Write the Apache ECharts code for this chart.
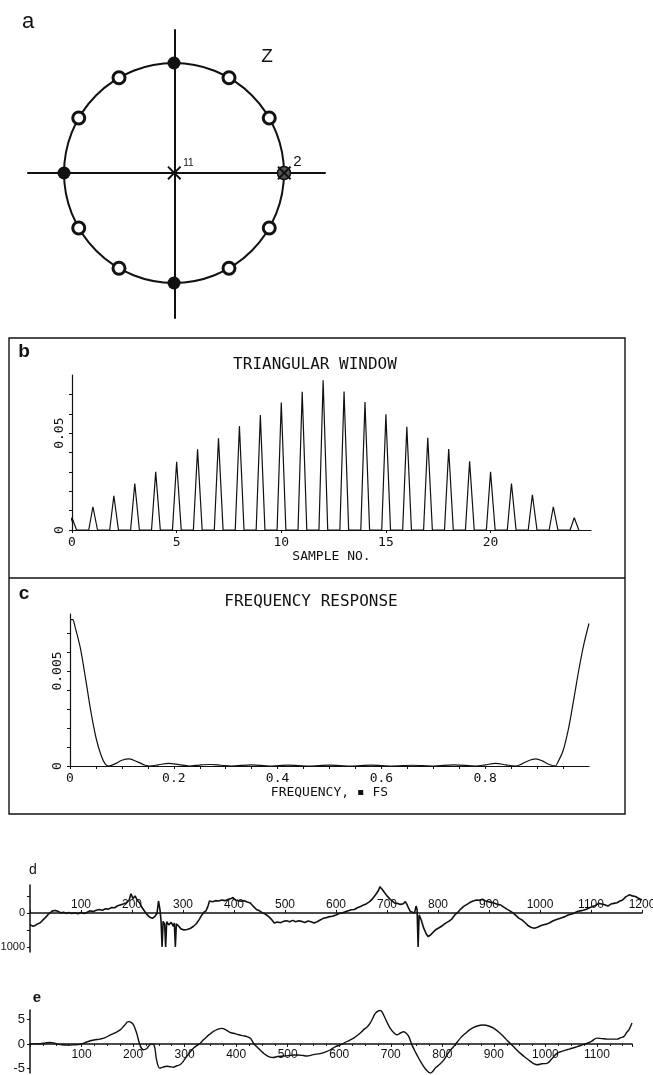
<!DOCTYPE html>
<html>
<head>
<meta charset="utf-8">
<script src="https://cdn.jsdelivr.net/npm/echarts@6/dist/echarts.min.js"></script>
<style>
  html, body { margin: 0; padding: 0; background: #fff; }
  #chart { width: 653px; height: 1075px; }
</style>
</head>
<body>
<div id="chart"></div>
<script>
// a: zeros on the unit circle (angle in degrees), poles
var zerosOpen = [30, 60, 120, 150, 210, 240, 300, 330];
var zerosFilled = [90, 180, 270];
var zeroAtOne = [0];
var poles = [[0, 0], [1, 0]];
var poleOrders = ["11", "2"];

// b: triangular window
var sampleNo = [0, 1, 2, 3, 4, 5, 6, 7, 8, 9, 10, 11, 12, 13, 14, 15, 16, 17, 18, 19, 20, 21, 22, 23, 24];
var windowValues = [0.0063, 0.012, 0.0177, 0.024, 0.030, 0.0352, 0.0416, 0.0473, 0.0536, 0.0593, 0.0658, 0.0713, 0.0773,
  0.0715, 0.066, 0.0597, 0.0533, 0.0476, 0.0418, 0.0355, 0.030, 0.024, 0.0182, 0.012, 0.0063];
var sampleTicks = [0, 5, 10, 15, 20];

// c: frequency response [frequency * fs, value]
var freqResponse = [
  [0, 0.0077], [0.005, 0.0077], [0.01, 0.0073], [0.02, 0.0062], [0.03, 0.0046], [0.04, 0.0029],
  [0.05, 0.0015], [0.06, 0.00055], [0.068, 0.0001], [0.075, 0], [0.09, 0.00015], [0.1, 0.0003],
  [0.114, 0.00037], [0.13, 0.00022], [0.145, 0.00004], [0.154, 0], [0.17, 0.00006], [0.19, 0.00014],
  [0.21, 0.00007], [0.23, 0], [0.25, 0.00005], [0.27, 0.00008], [0.29, 0.00004], [0.31, 0],
  [0.35, 0.00006], [0.385, 0], [0.42, 0.00005], [0.46, 0], [0.5, 0.00005], [0.54, 0], [0.58, 0.00005],
  [0.62, 0], [0.66, 0.00004], [0.7, 0], [0.74, 0.00006], [0.782, 0], [0.8, 0.00006], [0.82, 0.00014],
  [0.84, 0.00006], [0.858, 0], [0.87, 0.0001], [0.88, 0.00024], [0.897, 0.00037], [0.91, 0.00027],
  [0.92, 0.00012], [0.935, 0], [0.94, 0.0002], [0.95, 0.0008], [0.96, 0.0019], [0.97, 0.0034],
  [0.98, 0.005], [0.99, 0.0064], [1.0, 0.0075]
];
var freqTicks = [0, 0.2, 0.4, 0.6, 0.8];

// d: raw trace [sample, value]
var traceD = [
  [0, -350], [6, -390], [10, -370], [14, -330], [20, -290], [26, -200], [32, -110], [36, -40], [40, 10], [44, 60],
  [47, 90], [50, 70], [53, 85], [57, 30], [61, 0], [66, 20], [71, -15], [76, 10], [82, -20], [88, 5],
  [94, -25], [100, 10], [106, -15], [112, 20], [118, 60], [124, 40], [130, 80], [136, 100], [142, 80], [148, 120],
  [154, 110], [160, 160], [166, 150], [172, 210], [178, 240], [184, 270], [189, 300], [194, 360], [198, 560], [202, 420],
  [206, 500], [210, 380], [215, 290], [220, 150], [225, 40], [230, -60], [235, -130], [240, -160], [245, -100], [249, -20],
  [252, 350], [255, 80], [257, -250], [259, -1000], [261, -250], [264, -330], [266, -1000], [268, -260], [272, -350], [277, -280],
  [281, -400], [283, -300], [285, -1000], [287, -320], [291, -380], [296, -470], [302, -500], [308, -490], [314, -460], [320, -400],
  [326, -320], [332, -190], [337, -60], [341, 20], [345, 60], [349, 200], [352, 350], [358, 330], [364, 360], [370, 350],
  [376, 380], [382, 360], [388, 390], [394, 420], [398, 450], [403, 380], [408, 360], [414, 340], [420, 360], [426, 320],
  [432, 290], [438, 190], [444, 100], [450, 60], [456, 0], [462, -40], [468, -110], [474, -200], [479, -300], [485, -270],
  [491, -290], [497, -250], [503, -230], [509, -260], [515, -220], [521, -260], [527, -230], [533, -250], [539, -280], [545, -240],
  [551, -260], [557, -300], [563, -260], [569, -210], [575, -160], [581, -140], [587, -110], [593, -100], [600, -60], [606, -20],
  [612, 0], [618, 30], [624, 60], [630, 90], [636, 100], [642, 150], [648, 190], [654, 230], [660, 270], [666, 330],
  [672, 420], [678, 540], [683, 650], [686, 770], [690, 700], [695, 600], [700, 500], [705, 420], [710, 350], [715, 290],
  [720, 280], [726, 250], [732, 270], [736, 330], [739, 250], [742, 150], [746, 40], [750, 20], [754, 0], [757, 200],
  [759, 100], [761, -1000], [763, -60], [767, -200], [772, -450], [777, -620], [781, -700], [786, -640], [791, -560], [797, -480],
  [803, -430], [809, -370], [815, -300], [821, -250], [827, -180], [833, -60], [839, 20], [845, 120], [851, 200], [857, 250],
  [863, 310], [869, 350], [875, 380], [881, 370], [887, 400], [893, 350], [899, 330], [905, 310], [911, 280], [917, 250],
  [923, 230], [929, 170], [935, 110], [941, 60], [947, 0], [953, -80], [959, -160], [965, -210], [971, -290], [977, -380],
  [983, -430], [989, -450], [995, -420], [1001, -380], [1007, -350], [1013, -330], [1019, -290], [1025, -240], [1031, -200], [1037, -170],
  [1043, -140], [1049, -110], [1055, -60], [1061, -40], [1067, -10], [1073, 40], [1079, 60], [1085, 80], [1091, 110], [1097, 150],
  [1103, 190], [1109, 220], [1115, 280], [1121, 260], [1127, 240], [1133, 200], [1139, 260], [1145, 280], [1151, 300], [1157, 350],
  [1162, 380], [1168, 470], [1175, 530], [1181, 500], [1187, 480], [1193, 430], [1200, 380]
];

// e: filtered trace [sample, value x10^3]
var traceE = [
  [0, 0], [20, 0.05], [30, 0.2], [39, 0.3], [46, 0.2], [52, 0], [60, -0.15], [71, -0.25], [85, -0.2], [97, -0.1],
  [110, 0.4], [124, 0.8], [136, 1.0], [146, 1.3], [155, 1.8], [165, 2.3], [175, 2.9], [183, 3.8], [191, 4.6], [197, 4.4],
  [201, 3.9], [207, 2.2], [214, -0.4], [220, -1.2], [226, -1.0], [230, -0.5], [236, 0], [241, -0.3], [246, -3.5], [252, -5.0],
  [258, -4.8], [265, -4.6], [272, -4.7], [278, -4.8], [285, -4.5], [291, -4.3], [298, -3.5], [304, -2.6], [310, -1.8], [317, -0.9],
  [324, -0.3], [330, 0.1], [336, 0.8], [343, 1.5], [350, 2.1], [356, 2.6], [364, 3.0], [372, 3.2], [380, 2.9], [388, 2.4],
  [395, 2.2], [405, 1.9], [413, 1.7], [421, 1.5], [428, 1.1], [434, 0.1], [443, -0.9], [453, -1.9], [463, -2.6], [472, -2.8],
  [480, -2.6], [492, -2.5], [502, -2.4], [511, -2.3], [520, -2.3], [530, -2.4], [537, -2.5], [550, -2.2], [563, -2.0], [575, -1.6],
  [583, -1.2], [592, -0.6], [602, -0.2], [615, 0.5], [628, 1.2], [638, 2.0], [647, 2.9], [655, 3.6], [660, 4.3], [665, 5.3],
  [670, 6.3], [676, 6.8], [680, 6.9], [684, 6.4], [689, 5.3], [694, 4.2], [699, 3.2], [705, 2.4], [712, 1.9], [718, 2.2],
  [725, 2.5], [730, 2.2], [735, 1.5], [741, -0.2], [746, -1.3], [751, -2.3], [757, -3.5], [764, -4.7], [770, -5.5], [777, -6.0],
  [782, -5.6], [786, -5.0], [795, -4.2], [803, -3.3], [812, -1.8], [822, -0.55], [829, 0.4], [835, 1.2], [845, 2.2], [854, 3.0],
  [865, 3.6], [880, 3.9], [890, 3.7], [900, 3.2], [910, 2.4], [919, 1.5], [927, 0.6], [935, -0.2], [943, -1.1], [951, -1.9],
  [961, -2.8], [971, -3.6], [978, -4.1], [984, -4.3], [993, -4.1], [1003, -4.0], [1013, -3.0], [1023, -1.9], [1033, -1.5], [1042, -1.2],
  [1052, -0.9], [1062, -0.55], [1072, -0.2], [1081, 0.14], [1090, 0.6], [1100, 1.2], [1110, 1.1], [1120, 1.0], [1130, 1.0], [1139, 1.0],
  [1146, 1.3], [1152, 1.5], [1158, 2.4], [1162, 2.9], [1168, 4.3]
];

var ink = "#111";
var mono = "DejaVu Sans Mono";
var sans = "Liberation Sans";
var crossPath = "path://M0,1L1,0L5,4L9,0L10,1L6,5L10,9L9,10L5,6L1,10L0,9L4,5Z";

// each window sample drawn as a narrow spike on the baseline
var spikeData = [];
sampleNo.forEach(function (n, i) {
  spikeData.push([n - 0.2, 0], [n, windowValues[i]], [n + 0.22, 0]);
});

function plainAxis(extra) {
  return Object.assign({
    type: "value",
    axisLine: { show: true, onZero: false, lineStyle: { color: ink, width: 1.2 } },
    axisTick: { show: false },
    axisLabel: { show: false },
    splitLine: { show: false }
  }, extra);
}

// label-only axis: sits on a helper grid whose edge lies on the zero line
function labelAxis(extra) {
  return Object.assign({
    type: "value",
    axisLine: { show: false },
    axisTick: { show: false },
    splitLine: { show: false }
  }, extra);
}

function plainNumber(v) {
  return String(v);
}

var chart = echarts.init(document.getElementById("chart"));

var option = {
  animation: false,
  backgroundColor: "#fff",
  grid: [
    { left: 28, top: 30, width: 297, height: 288, outerBoundsMode: "none" },
    { left: 72, top: 375, width: 519, height: 155, outerBoundsMode: "none" },
    { left: 70, top: 614, width: 519, height: 152, outerBoundsMode: "none" },
    { left: 30, top: 885, width: 612, height: 67, outerBoundsMode: "none" },
    { left: 30, top: 1010, width: 602, height: 63, outerBoundsMode: "none" },
    // helper grids for the d / e tick labels along the zero lines
    { left: 30, top: 913, width: 612, height: 39, outerBoundsMode: "none" },
    { left: 30, top: 1010, width: 602, height: 34, outerBoundsMode: "none" }
  ],
  polar: { center: [174, 173], radius: 110 },
  angleAxis: {
    type: "value", min: 0, max: 360, startAngle: 0, clockwise: false,
    axisLine: { show: true, lineStyle: { color: ink, width: 2 } },
    axisTick: { show: false }, axisLabel: { show: false }, splitLine: { show: false }
  },
  radiusAxis: { type: "value", min: 0, max: 1, show: false },
  xAxis: [
    plainAxis({ gridIndex: 0, min: -1.33, max: 1.37,
      axisLine: { show: true, onZero: true, lineStyle: { color: ink, width: 2 } } }),
    plainAxis({ gridIndex: 1, min: 0, max: 24.8,
      axisTick: { show: true, length: 3, customValues: sampleTicks, lineStyle: { color: ink } },
      axisLabel: { show: true, customValues: sampleTicks, margin: 6, color: ink, fontFamily: mono, fontSize: 13 },
      name: "SAMPLE NO.", nameLocation: "middle", nameGap: 20,
      nameTextStyle: { color: ink, fontFamily: mono, fontSize: 13 } }),
    plainAxis({ gridIndex: 2, min: 0, max: 1,
      axisTick: { show: true, length: 3, customValues: [0, 0.05, 0.1, 0.15, 0.2, 0.25, 0.3, 0.35, 0.4, 0.45, 0.5, 0.55, 0.6, 0.65, 0.7, 0.75, 0.8, 0.85, 0.9, 0.95], lineStyle: { color: ink } },
      axisLabel: { show: true, customValues: freqTicks, margin: 6, color: ink, fontFamily: mono, fontSize: 13,
        formatter: function (v) { return v === 0 ? "0" : v.toFixed(1); } },
      name: "FREQUENCY, \u25aa FS", nameLocation: "middle", nameGap: 20,
      nameTextStyle: { color: ink, fontFamily: mono, fontSize: 13 } }),
    plainAxis({ gridIndex: 3, min: 0, max: 1200, interval: 100,
      axisLine: { show: true, onZero: true, lineStyle: { color: ink, width: 1.5 } },
      axisTick: { show: true, length: 3, inside: true, lineStyle: { color: ink } } }),
    plainAxis({ gridIndex: 4, min: 0, max: 1168, interval: 100,
      axisLine: { show: true, onZero: true, lineStyle: { color: ink, width: 1.5 } },
      axisTick: { show: true, length: 3, lineStyle: { color: ink } },
      minorTick: { show: true, splitNumber: 4, length: 2, lineStyle: { color: ink } } }),
    labelAxis({ gridIndex: 5, position: "top", min: 0, max: 1200, interval: 100,
      axisLabel: { show: true, margin: 2, showMinLabel: false, color: ink, fontFamily: sans, fontSize: 12, formatter: plainNumber } }),
    labelAxis({ gridIndex: 6, position: "bottom", min: 0, max: 1168, interval: 100,
      axisLabel: { show: true, margin: 5, showMinLabel: false, showMaxLabel: false, color: ink, fontFamily: sans, fontSize: 12, formatter: plainNumber } })
  ],
  yAxis: [
    plainAxis({ gridIndex: 0, min: -1.32, max: 1.30,
      axisLine: { show: true, onZero: true, lineStyle: { color: ink, width: 2 } } }),
    plainAxis({ gridIndex: 1, min: 0, max: 0.08,
      axisTick: { show: true, length: 3, customValues: [0, 0.01, 0.02, 0.03, 0.04, 0.05, 0.06, 0.07], lineStyle: { color: ink } },
      axisLabel: { show: true, customValues: [0, 0.05], rotate: 90, margin: 6, color: ink, fontFamily: mono, fontSize: 13,
        formatter: function (v) { return v === 0 ? "0" : "0.05"; } } }),
    plainAxis({ gridIndex: 2, min: 0, max: 0.008,
      axisTick: { show: true, length: 3, customValues: [0, 0.001, 0.002, 0.003, 0.004, 0.005, 0.006, 0.007], lineStyle: { color: ink } },
      axisLabel: { show: true, customValues: [0, 0.005], rotate: 90, margin: 6, color: ink, fontFamily: mono, fontSize: 13,
        formatter: function (v) { return v === 0 ? "0" : "0.005"; } } }),
    plainAxis({ gridIndex: 3, min: -1150, max: 820,
      axisLine: { show: true, onZero: false, lineStyle: { color: ink, width: 1.5 } },
      axisTick: { show: true, length: 3, customValues: [-1000, -500, 0, 500], lineStyle: { color: ink } },
      axisLabel: { show: true, customValues: [-1000, 0], margin: 5, color: ink, fontFamily: sans, fontSize: 11,
        formatter: function (v) { return String(Math.abs(v)); } } }),
    plainAxis({ gridIndex: 4, min: -6, max: 7,
      axisLine: { show: true, onZero: false, lineStyle: { color: ink, width: 1.5 } },
      axisTick: { show: true, length: 3, customValues: [-5, 0, 5], lineStyle: { color: ink } },
      axisLabel: { show: true, customValues: [-5, 0, 5], margin: 5, color: ink, fontFamily: sans, fontSize: 13 },
      name: "\u00d710\u00b3", nameLocation: "middle", nameGap: 22, nameRotate: 90,
      nameTextStyle: { color: ink, fontFamily: sans, fontSize: 10 } }),
    { type: "value", gridIndex: 5, show: false },
    { type: "value", gridIndex: 6, show: false }
  ],
  series: [
    {
      type: "scatter", coordinateSystem: "polar", symbol: "circle", symbolSize: 12,
      itemStyle: { color: "#fff", borderColor: ink, borderWidth: 3, opacity: 1 },
      data: zerosOpen.map(function (a) { return [1, a]; })
    },
    {
      type: "scatter", coordinateSystem: "polar", symbol: "circle", symbolSize: 13,
      itemStyle: { color: ink, opacity: 1 },
      data: zerosFilled.map(function (a) { return [1, a]; })
    },
    {
      type: "scatter", coordinateSystem: "polar", symbol: "circle", symbolSize: 13,
      itemStyle: { color: "#555", borderColor: ink, borderWidth: 1.5, opacity: 1 },
      data: zeroAtOne.map(function (a) { return [1, a]; })
    },
    {
      type: "scatter", xAxisIndex: 0, yAxisIndex: 0, symbol: crossPath, symbolSize: 14,
      itemStyle: { color: ink, opacity: 1 }, z: 5,
      data: poles.map(function (p, i) {
        return {
          value: p,
          label: {
            show: true, formatter: poleOrders[i], position: "right", distance: 2,
            offset: i === 0 ? [0, -10] : [0, -11],
            color: ink, fontFamily: sans, fontSize: i === 0 ? 10 : 15
          }
        };
      })
    },
    {
      type: "line", xAxisIndex: 1, yAxisIndex: 1, symbol: "none",
      lineStyle: { color: ink, width: 1.2 }, data: spikeData
    },
    {
      type: "line", xAxisIndex: 2, yAxisIndex: 2, symbol: "none", smooth: 0.3,
      lineStyle: { color: ink, width: 1.2 }, data: freqResponse
    },
    {
      type: "line", xAxisIndex: 3, yAxisIndex: 3, symbol: "none",
      lineStyle: { color: ink, width: 1.6 }, data: traceD
    },
    {
      type: "line", xAxisIndex: 4, yAxisIndex: 4, symbol: "none", smooth: 0.4,
      lineStyle: { color: ink, width: 1.4 }, data: traceE
    }
  ],
  graphic: {
    elements: [
      { type: "rect", silent: true, shape: { x: 9, y: 338, width: 616, height: 476 },
        style: { fill: "none", stroke: ink, lineWidth: 1.4 } },
      { type: "line", silent: true, shape: { x1: 9, y1: 578, x2: 625, y2: 578 },
        style: { stroke: ink, lineWidth: 1.4 } },
      { type: "text", x: 28, y: 22, style: { text: "a", fontSize: 22, fontFamily: sans, fill: ink, textAlign: "center", textVerticalAlign: "middle" } },
      { type: "text", x: 267, y: 57, style: { text: "Z", fontSize: 19, fontFamily: sans, fill: ink, textAlign: "center", textVerticalAlign: "middle" } },
      { type: "text", x: 24, y: 352, style: { text: "b", fontSize: 19, fontWeight: "bold", fontFamily: sans, fill: ink, textAlign: "center", textVerticalAlign: "middle" } },
      { type: "text", x: 24, y: 594, style: { text: "c", fontSize: 19, fontWeight: "bold", fontFamily: sans, fill: ink, textAlign: "center", textVerticalAlign: "middle" } },
      { type: "text", x: 315, y: 365, style: { text: "TRIANGULAR WINDOW", fontSize: 16, fontFamily: mono, fill: ink, textAlign: "center", textVerticalAlign: "middle" } },
      { type: "text", x: 311, y: 602, style: { text: "FREQUENCY RESPONSE", fontSize: 16, fontFamily: mono, fill: ink, textAlign: "center", textVerticalAlign: "middle" } },
      { type: "text", x: 33, y: 870, style: { text: "d", fontSize: 14, fontFamily: sans, fill: ink, textAlign: "center", textVerticalAlign: "middle" } },
      { type: "text", x: 37, y: 998, style: { text: "e", fontSize: 15, fontWeight: "bold", fontFamily: sans, fill: ink, textAlign: "center", textVerticalAlign: "middle" } }
    ]
  }
};

chart.setOption(option);
window.addEventListener("resize", function () { chart.resize(); });
</script>
</body>
</html>
